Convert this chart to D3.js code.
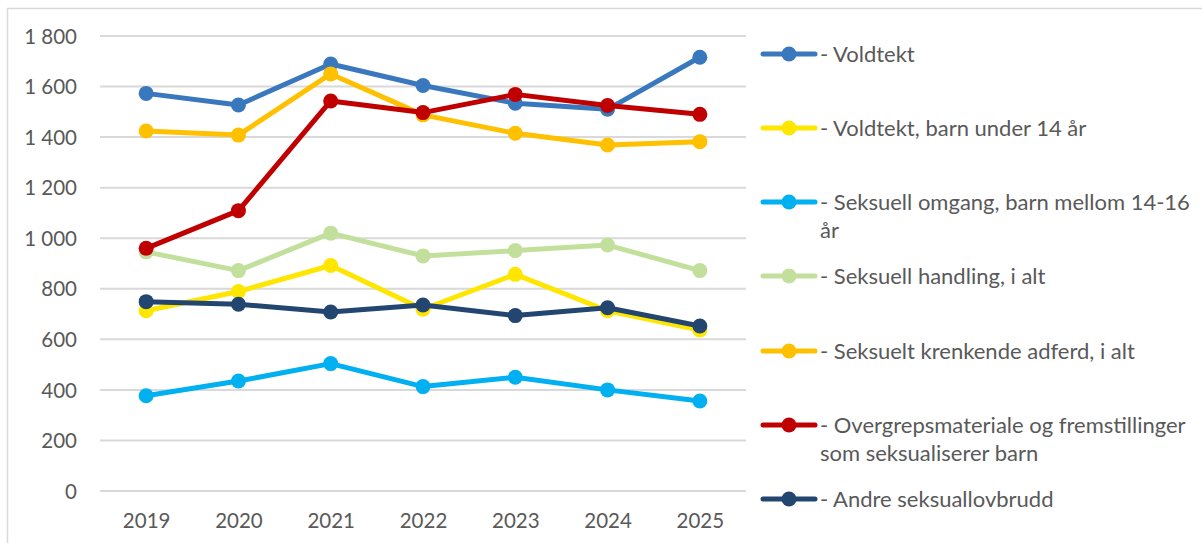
<!DOCTYPE html>
<html lang="no">
<head>
    <meta charset="utf-8">
    <title>Seksuallovbrudd 2019-2025</title>
    <script src="https://cdn.jsdelivr.net/npm/d3@7/dist/d3.min.js"></script>
    <style type="text/css">
      body{
          margin: 0;
          background-color: white;
      }
      .axis text{
          fill: #595959;
          font-family: Lato, "Open Sans", sans-serif;
          font-size: 20.5px;
      }
    </style>
</head>

<body>
  <script type="text/javascript">
    // data
    var years = ["2019", "2020", "2021", "2022", "2023", "2024", "2025"];
    var yTicks = [0, 200, 400, 600, 800, 1000, 1200, 1400, 1600, 1800];

    var voldtekt      = [1573, 1527, 1689, 1604, 1534, 1510, 1716];
    var voldtektBarn  = [713, 789, 892, 719, 857, 713, 637];
    var omgang        = [377, 435, 504, 413, 450, 400, 356];
    var handling      = [946, 872, 1020, 930, 951, 973, 872];
    var krenkende     = [1424, 1408, 1650, 1488, 1415, 1369, 1382];
    var overgrep      = [960, 1109, 1543, 1497, 1569, 1525, 1490];
    var andre         = [749, 739, 708, 736, 694, 725, 653];

    var seriesNames = [
      ["- Voldtekt"],
      ["- Voldtekt, barn under 14 år"],
      ["- Seksuell omgang, barn mellom 14-16", "år"],
      ["- Seksuell handling, i alt"],
      ["- Seksuelt krenkende adferd, i alt"],
      ["- Overgrepsmateriale og fremstillinger", "som seksualiserer barn"],
      ["- Andre seksuallovbrudd"]
    ];
    var seriesColors = ["#3A78BE", "#FFE600", "#00B0F0", "#C2E09C", "#FFC000", "#C00000", "#22466F"];
    var seriesValues = [voldtekt, voldtektBarn, omgang, handling, krenkende, overgrep, andre];

    // drawing order (last on top)
    var drawOrder = [0, 4, 3, 1, 2, 5, 6];

    var width = 1202, height = 543;
    var plot = {left: 100, right: 746, top: 36, bottom: 491};

    var svg = d3.select("body").append("svg").attr("width", width).attr("height", height);

    // outer frame
    svg.append("rect")
        .attr("x", 7.5).attr("y", 8.5)
        .attr("width", 1200).attr("height", 545)
        .attr("fill", "none").attr("stroke", "#D9D9D9").attr("stroke-width", 1.5);

    var x = d3.scalePoint().domain(years).range([plot.left, plot.right]).padding(0.5);
    var y = d3.scaleLinear().domain([0, 1800]).range([plot.bottom, plot.top]);

    // gridlines
    svg.append("g").selectAll("line")
        .data(yTicks)
        .enter()
        .append("line")
        .attr("x1", plot.left).attr("x2", plot.right)
        .attr("y1", function(d){ return y(d); })
        .attr("y2", function(d){ return y(d); })
        .attr("stroke", "#D9D9D9").attr("stroke-width", 2);

    var fmt = function(d){ return d3.format(",")(d).replace(",", " "); };

    // y axis
    var yA = d3.axisLeft(y).tickValues(yTicks).tickFormat(fmt).tickSize(0).tickPadding(0);
    var gy = svg.append("g").attr("class", "axis").attr("transform", "translate(77,0)").call(yA);
    gy.select(".domain").remove();
    gy.selectAll("text").attr("dy", "0.35em");

    // x axis
    var xA = d3.axisBottom(x).tickSize(0).tickPadding(0);
    var gx = svg.append("g").attr("class", "axis").attr("transform", "translate(0,514)").call(xA);
    gx.select(".domain").remove();
    gx.selectAll("text").attr("dy", "0.7em");

    var line = d3.line()
        .x(function(d, i){ return x(years[i]); })
        .y(function(d){ return y(d); });

    drawOrder.forEach(function(k){
      var g = svg.append("g");
      g.append("path")
          .datum(seriesValues[k])
          .attr("d", line)
          .attr("fill", "none")
          .attr("stroke", seriesColors[k])
          .attr("stroke-width", 5)
          .attr("stroke-linejoin", "round");
      g.selectAll("circle")
          .data(seriesValues[k])
          .enter()
          .append("circle")
          .attr("cx", function(d, i){ return x(years[i]); })
          .attr("cy", function(d){ return y(d); })
          .attr("r", 7.5)
          .attr("fill", seriesColors[k]);
    });

    // legend
    var legendY = [54, 128, 202, 276, 351, 425, 499];
    var lg = svg.append("g");
    seriesNames.forEach(function(name, k){
      var item = lg.append("g").attr("transform", "translate(0," + legendY[k] + ")");
      item.append("line")
          .attr("x1", 763).attr("x2", 815)
          .attr("y1", 0).attr("y2", 0)
          .attr("stroke", seriesColors[k]).attr("stroke-width", 5)
          .attr("stroke-linecap", "round");
      item.append("circle").attr("cx", 789).attr("cy", 0).attr("r", 7.5).attr("fill", seriesColors[k]);
      name.forEach(function(t, j){
        item.append("text")
            .attr("x", 820)
            .attr("y", j * 28)
            .attr("dy", "0.35em")
            .style("font-family", "Lato, 'Open Sans', sans-serif")
            .style("font-size", "22px")
            .style("fill", "#595959")
            .text(t);
      });
    });
  </script>
</body>
</html>
